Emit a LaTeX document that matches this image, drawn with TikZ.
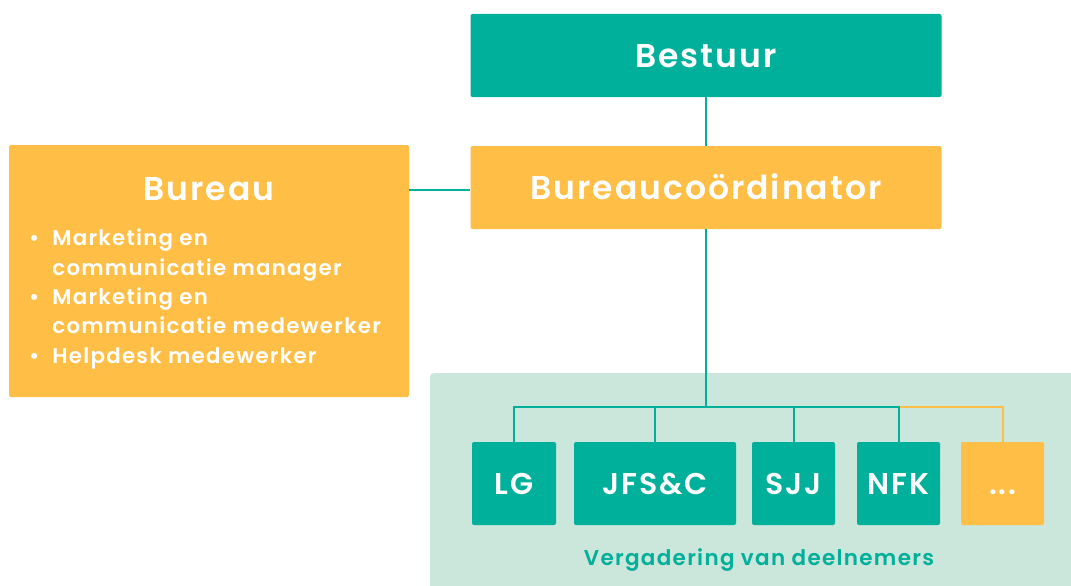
\documentclass[tikz,border=0pt]{standalone}
\usepackage{fontspec}
\setmainfont{Poppins}[LetterSpace=6, BoldFont={* SemiBold}]
\definecolor{teal}{HTML}{00B09A}
\definecolor{gold}{HTML}{FFBE45}
\definecolor{mint}{HTML}{CBE6DB}
\begin{document}
\begin{tikzpicture}[x=1pt,y=-1pt,
  box/.style={inner sep=0pt, rounded corners=2pt, text=white, font=\bfseries},
  tealbox/.style={box, fill=teal},
  goldbox/.style={box, fill=gold},
  big/.style={font=\bfseries\fontsize{33}{36}\selectfont, text height=23pt, text depth=0pt},
  mid/.style={font=\bfseries\fontsize{30}{34}\selectfont, text height=21pt, text depth=0pt},
  link/.style={draw=teal, line width=2pt},
  goldlink/.style={draw=gold, line width=2pt}]
\useasboundingbox (0,0) rectangle (1071,586);
% background area
\fill[mint, rounded corners=4pt] (430,373) rectangle (1090,600);
\node[tealbox, big, minimum width=471pt, minimum height=83pt] (bestuur) at (706,55.5) {Bestuur};
\node[goldbox, big, minimum width=471pt, minimum height=83pt] (coord) at (706,187.5) {Bureaucoördinator};
\node[goldbox, minimum width=400pt, minimum height=252pt] (bureau) at (209,271) {};
\node[text=white, big, inner sep=0pt] (bureautitle) at (209,189) {Bureau};
\node[text=white, font=\bfseries\fontsize{21.3}{29.3}\selectfont, inner sep=0pt, anchor=north west, align=left] (bureaulist) at (29,229)
 {•\hspace{13pt}Marketing en\\\hphantom{•\hspace{13pt}}communicatie manager\\•\hspace{13pt}Marketing en\\\hphantom{•\hspace{13pt}}communicatie medewerker\\•\hspace{13pt}Helpdesk medewerker};
\node[tealbox, mid, minimum width=84pt, minimum height=83pt] (lg) at (514,483.5) {LG};
\node[tealbox, mid, minimum width=162pt, minimum height=83pt] (jfs) at (655,483.5) {JFS\&C};
\node[tealbox, mid, minimum width=83pt, minimum height=83pt] (sjj) at (793.5,483.5) {SJJ};
\node[tealbox, mid, minimum width=83pt, minimum height=83pt] (nfk) at (898.5,483.5) {NFK};
\node[goldbox, mid, minimum width=83pt, minimum height=83pt] (more) at (1002.5,483.5) {...};
\node[text=teal, font=\bfseries\fontsize{21.5}{24}\selectfont, inner sep=0pt] (vergadering) at (759,560) {Vergadering van deelnemers};
\coordinate (hub) at (706,407);
\coordinate (joinpt) at (470,190);
% connectors
\draw[link] (bestuur.south) -- (coord.north);
\draw[link] (joinpt) -- (bureau.east |- joinpt);
\draw[link] (coord.south) -- (hub);
\draw[goldlink] (nfk.north |- hub) -| (more.north);
\draw[link] (lg.north) |- (hub) -| (nfk.north);
\draw[link] (jfs.north) -- (jfs.north |- hub);
\draw[link] (sjj.north) -- (sjj.north |- hub);
\end{tikzpicture}
\end{document}
